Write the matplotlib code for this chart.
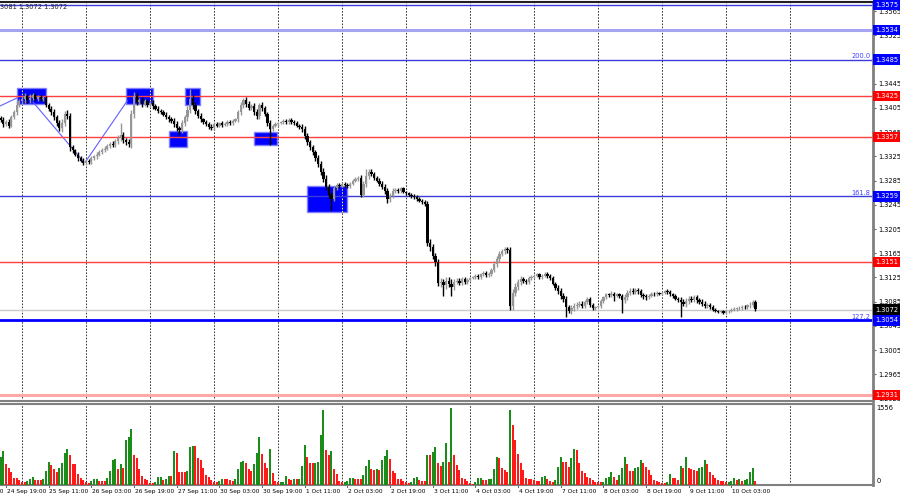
import numpy as np
import matplotlib.pyplot as plt
from matplotlib.patches import Rectangle
from matplotlib.transforms import blended_transform_factory as blend

plt.rcParams['font.family'] = ['Liberation Sans Narrow', 'DejaVu Sans']

# H1 closes in pips above 1.3000, bar 0 = 24 Sep 17:00
first_open = 388
closes = [385, 378, 382, 376, 390, 398, 410,
          416, 420, 424, 418, 422, 426, 420, 423, 419, 421,
          410, 404, 398, 390, 380, 372,
          380, 395, 392, 340, 335, 328, 322, 318, 314,
          318, 316, 322, 325, 328, 332, 336, 338, 342, 346, 344,
          350, 355, 360, 352, 348, 345, 395, 425,
          415, 418, 412, 416, 410, 414, 408, 404, 400,
          398, 394, 390, 386, 384, 378, 372, 368,
          380, 390, 402, 420, 410, 400, 392, 386,
          382, 378, 374, 372,
          378, 376, 380, 377, 379, 382, 380, 384, 386,
          398, 410, 418, 412, 405, 408, 398, 392,
          410, 405, 395, 380, 370,
          376, 378, 380, 382, 384, 381, 385,
          382, 380, 376, 374, 370,
          358, 348, 340, 332, 322, 312,
          300, 288, 275, 262, 255,
          272, 278, 276, 280, 278, 276, 280, 285, 288, 290,
          262, 280, 292, 300, 296, 290, 285, 280, 275,
          268, 255, 260, 268, 270, 268, 272, 266,
          264, 262, 260, 258, 255, 252, 250, 246,
          182, 175, 160, 150, 116,
          118, 112, 120, 115, 110, 118,
          120, 116, 122, 118, 121,
          124, 126, 128, 125, 130, 132, 129, 131,
          138, 148, 156, 164, 168, 172, 170, 78,
          100, 110, 118, 122, 120, 118, 124, 126, 128,
          130, 126, 128, 131, 127, 124, 115, 108,
          102, 95, 90, 76, 70, 74, 78,
          80, 82, 78, 84, 90, 80, 74, 76, 78,
          86, 92, 97, 96, 98, 95, 97, 94, 88, 92,
          100, 103, 101, 104, 102, 96, 94, 92, 95,
          98, 97, 99, 98, 100, 103, 101,
          97, 94, 90, 88, 85, 82, 86,
          90, 88, 92, 87, 85, 82, 78, 80, 76,
          72, 70, 68, 70, 67, 69, 70, 72, 73, 74,
          75, 77, 76, 79, 80, 84, 73]

# wick length beyond the body, pips
wick = [4, 5, 3, 4, 3, 4, 5, 4, 5, 6, 4, 5, 4, 3, 4, 3,
        3, 4, 4, 5, 5, 4, 5, 6, 5, 6, 4, 4, 3, 4, 3, 4,
        3, 3, 4, 3, 4, 3, 3, 4, 3, 3, 4, 4, 5, 4, 5, 4,
        5, 6, 6, 5, 4, 5, 4, 4, 3, 4, 3, 4, 3, 3, 4, 4,
        4, 5, 5, 4, 5, 4, 6, 5, 6, 5, 4, 4, 3, 3, 3, 4,
        3, 3, 2, 3, 2, 3, 3, 3, 3, 4, 5, 5, 5, 4, 4, 5,
        5, 6, 5, 4, 4, 5, 3, 3, 2, 2, 3, 3, 3, 3, 3, 3,
        3, 4, 5, 5, 4, 4, 4, 5, 5, 6, 6, 5, 5, 4, 3, 3,
        2, 3, 3, 3, 3, 3, 3, 4, 4, 5, 4, 4, 4, 3, 4, 4,
        5, 5, 5, 4, 3, 3, 3, 2, 2, 3, 3, 3, 3, 3, 3, 3,
        5, 6, 5, 6, 5, 6, 5, 6, 6, 7, 5, 4, 4, 3, 3, 3,
        2, 2, 3, 3, 3, 3, 3, 3, 3, 4, 5, 5, 4, 4, 4, 6,
        6, 6, 5, 5, 4, 3, 3, 3, 3, 3, 3, 3, 3, 3, 3, 3,
        3, 4, 5, 5, 5, 4, 5, 5, 5, 4, 4, 3, 3, 3, 3, 2,
        2, 3, 3, 3, 3, 4, 3, 3, 3, 4, 5, 4, 4, 4, 4, 4,
        4, 4, 4, 3, 3, 3, 3, 2, 2, 2, 3, 3, 3, 3, 3, 4,
        4, 5, 4, 4, 4, 4, 4, 4, 4, 3, 3, 3, 2, 2, 2, 2,
        2, 2, 2, 3, 3, 3, 3, 3, 3, 4, 4, 3]
hi_spike = {11: 428, 24: 400, 45: 380, 50: 431, 71: 437, 91: 421, 97: 414,
            137: 304, 190: 175, 282: 88}
lo_spike = {26: 334, 31: 310, 67: 360, 101: 344, 124: 236, 145: 248,
            166: 95, 169: 94, 191: 71, 212: 60, 230: 86, 233: 66, 255: 60}

volume = [556, 683, 415, 335, 268, 147, 134, 100, 67, 67, 80, 121, 154, 100, 100, 100,
          121, 288, 469, 402, 315, 268, 348, 435, 650, 737, 603, 415, 415, 214, 134, 100,
          54, 47, 80, 114, 121, 87, 87, 87, 134, 288, 502, 523, 315, 422, 335, 918,
          971, 1139, 616, 536, 315, 181, 121, 100, 47, 47, 67, 154, 167, 100, 114, 181,
          181, 683, 650, 268, 268, 268, 281, 770, 784, 784, 536, 502, 348, 201, 154, 100,
          54, 54, 80, 121, 121, 114, 100, 87, 121, 315, 469, 482, 435, 315, 288, 422,
          650, 971, 636, 435, 348, 723, 248, 80, 54, 60, 67, 181, 121, 100, 114, 114,
          121, 389, 804, 556, 449, 435, 449, 469, 1005, 1508, 703, 603, 690, 315, 214, 80,
          54, 67, 87, 134, 147, 121, 114, 114, 201, 382, 502, 315, 302, 315, 302, 502,
          583, 717, 523, 288, 248, 121, 114, 80, 67, 34, 67, 134, 167, 100, 87, 87,
          603, 603, 657, 770, 449, 382, 469, 858, 469, 1556, 616, 402, 302, 147, 121, 80,
          34, 13, 67, 134, 147, 100, 100, 114, 121, 322, 570, 549, 348, 302, 268, 1508,
          1219, 905, 623, 435, 302, 134, 121, 114, 100, 80, 80, 154, 181, 121, 87, 67,
          100, 369, 556, 469, 456, 355, 549, 737, 703, 449, 281, 248, 154, 147, 100, 67,
          54, 54, 67, 134, 167, 255, 167, 100, 201, 348, 570, 415, 288, 288, 348, 369,
          502, 449, 369, 302, 201, 100, 80, 67, 40, 40, 67, 221, 147, 134, 100, 389,
          335, 556, 335, 315, 302, 281, 335, 369, 502, 415, 268, 201, 147, 100, 80, 80,
          54, 67, 87, 134, 100, 121, 80, 100, 121, 268, 348, 80]

levels = [1.3575, 1.3534, 1.3485, 1.3425, 1.3357, 1.3259, 1.3151, 1.3072, 1.3054, 1.2931]
level_kind = ['blue', 'lblue', 'blue', 'red', 'red', 'blue', 'red', 'price', 'blue2', 'lred']
fib_text = {1.3485: '200.0', 1.3259: '161.8', 1.3054: '127.2'}

# rectangles: bar index from/to, price low/high
box_t0 = [6.1, 47.0, 69.1, 63.1, 95.0, 114.9]
box_t1 = [17.0, 57.1, 74.7, 69.9, 103.6, 129.9]
box_lo = [1.34115, 1.34115, 1.34098, 1.33405, 1.33438, 1.32331]
box_hi = [1.34379, 1.34379, 1.34379, 1.33669, 1.33653, 1.32761]

trend_t = [(-0.3, 6.1), (12.1, 31.2), (32.0, 47.4)]
trend_p = [(1.34082, 1.34214), (1.34148, 1.33157), (1.33174, 1.34165)]

time_labels = ['24 Sep 03:00', '24 Sep 19:00', '25 Sep 11:00', '26 Sep 03:00', '26 Sep 19:00',
               '27 Sep 11:00', '30 Sep 03:00', '30 Sep 19:00', '1 Oct 11:00', '2 Oct 03:00',
               '2 Oct 19:00', '3 Oct 11:00', '4 Oct 03:00', '4 Oct 19:00', '7 Oct 11:00',
               '8 Oct 03:00', '8 Oct 19:00', '9 Oct 11:00', '10 Oct 03:00']
header = '3081 1.3072 1.3072'

assert len(closes) == len(wick) == len(volume) == 284

style = {'blue': ('#3c3cd8', 1.0, '#0000ff'),
         'lblue': ('#a4a4f0', 2.2, '#0000ff'),
         'red': ('#ff4040', 1.0, '#ff0000'),
         'price': ('#c8c8c8', 1.0, '#000000'),
         'blue2': ('#0000ff', 2.0, '#0000ff'),
         'lred': ('#ffa8a8', 2.2, '#ff0000')}

c = 1.3 + np.array(closes) / 10000
o = np.r_[1.3 + first_open / 10000, c[:-1]]
w = np.array(wick) / 10000
hi = np.maximum(o, c) + w
lo = np.minimum(o, c) - w
for i, v in hi_spike.items():
    hi[i] = 1.3 + v / 10000
for i, v in lo_spike.items():
    lo[i] = 1.3 + v / 10000
x = np.arange(len(c))
up = c >= o
col = np.where(up, '#969696', '#000000')

fig = plt.figure(figsize=(9, 5), dpi=100)
ax = fig.add_axes([0, 0.198, 0.97, 0.798])
ax2 = fig.add_axes([0, 0.03, 0.97, 0.162])
xlim = (-0.26, 327.1)

grid_x = 8.1 + 24 * np.arange(13)
for a in (ax, ax2):
    a.set_xlim(*xlim)
    for g in grid_x:
        a.axvline(g, color='#303030', lw=0.7, ls=(0, (1.6, 1.6)), zorder=1)
    a.set_xticks([])
    a.spines['left'].set_visible(False)
    a.spines['right'].set_color('#808080')
    a.spines['right'].set_linewidth(2)

ax.spines['top'].set_color('#202020')
ax.spines['top'].set_linewidth(1.5)
ax.spines['bottom'].set_color('#808080')
ax.spines['bottom'].set_linewidth(1.5)
ax2.spines['top'].set_color('#808080')
ax2.spines['top'].set_linewidth(1.5)
ax2.spines['bottom'].set_color('#808080')
ax2.spines['bottom'].set_linewidth(1.5)

ax.set_ylim(1.29210, 1.35800)

# boxes
for t0, t1, b0, b1 in zip(box_t0, box_t1, box_lo, box_hi):
    ax.add_patch(Rectangle((t0, b0), t1 - t0, b1 - b0, facecolor='#0000ff',
                           edgecolor='#8080ff', lw=1, zorder=2))
    for g in grid_x:
        if t0 < g < t1:
            ax.plot([g, g], [b0, b1], color='#ffff00', lw=0.7, ls=(0, (1.6, 1.6)), zorder=2.1)

# trend lines
for tt, pp in zip(trend_t, trend_p):
    ax.plot(tt, pp, color='#6060ff', lw=0.8, zorder=2.4)

# levels
tr = blend(ax.transAxes, ax.transData)
for p, k in zip(levels, level_kind):
    lc, lw, bc = style[k]
    ax.axhline(p, color=lc, lw=lw, zorder=2.5)
    ax.text(1.003, p, f'{p:.4f}', transform=tr, color='white', fontsize=4.8,
            va='center', ha='left', zorder=10, clip_on=False,
            bbox=dict(facecolor=bc, edgecolor='none', pad=1.6))
for p, t in fib_text.items():
    ax.text(0.997, p + 0.00012, t, transform=tr, color='#4040ff', fontsize=4.8,
            ha='right', va='bottom', zorder=5)

# candles
ax.vlines(x, lo, hi, colors=col, lw=1.0, zorder=3)
body = np.maximum(np.abs(c - o), 0.00005)
ax.bar(x, body, bottom=np.minimum(o, c), width=0.85, color=col, linewidth=0, zorder=3.1)

# price scale; the tick under the 1.3485 label box is left blank
yt = np.arange(1.2925, 1.3566, 0.004)
ax.yaxis.tick_right()
ax.set_yticks(yt)
ax.set_yticklabels(['' if abs(v - 1.3485) < 1e-6 else f'{v:.4f}' for v in yt])
ax.tick_params(axis='y', labelsize=4.8, length=2, pad=1.5, color='#606060')

fig.text(0.0, 1 - 7 / 500, header, fontsize=4.8, va='center', ha='left', color='#202020')

# volumes, green when higher than the previous bar
vol = np.array(volume)
vcol = ['#1a8c1a' if i == 0 or vol[i] > vol[i - 1] else '#ff1a1a' for i in range(len(vol))]
ax2.bar(x, vol, width=0.72, color=vcol, linewidth=0, zorder=3)
ax2.set_ylim(0, 1636)
ax2.set_yticks([])
tr2 = blend(ax2.transAxes, ax2.transData)
ax2.text(1.004, 1556, '1556', transform=tr2, fontsize=4.8, va='center', ha='left')
ax2.text(1.004, 20, '0', transform=tr2, fontsize=4.8, va='bottom', ha='left')

trx = blend(ax2.transData, ax2.transAxes)
for j, lab in enumerate(time_labels):
    bx = 2 + 16 * (j - 1)
    ax2.text(bx + 0.3, -0.05, lab, transform=trx, fontsize=4.2, va='top', ha='left',
             clip_on=False)
    if bx > xlim[0]:
        ax2.plot([bx, bx], [0, -0.03], transform=trx, color='#606060', lw=0.7, clip_on=False)

fig.savefig('out.png', dpi=100, facecolor='white')
